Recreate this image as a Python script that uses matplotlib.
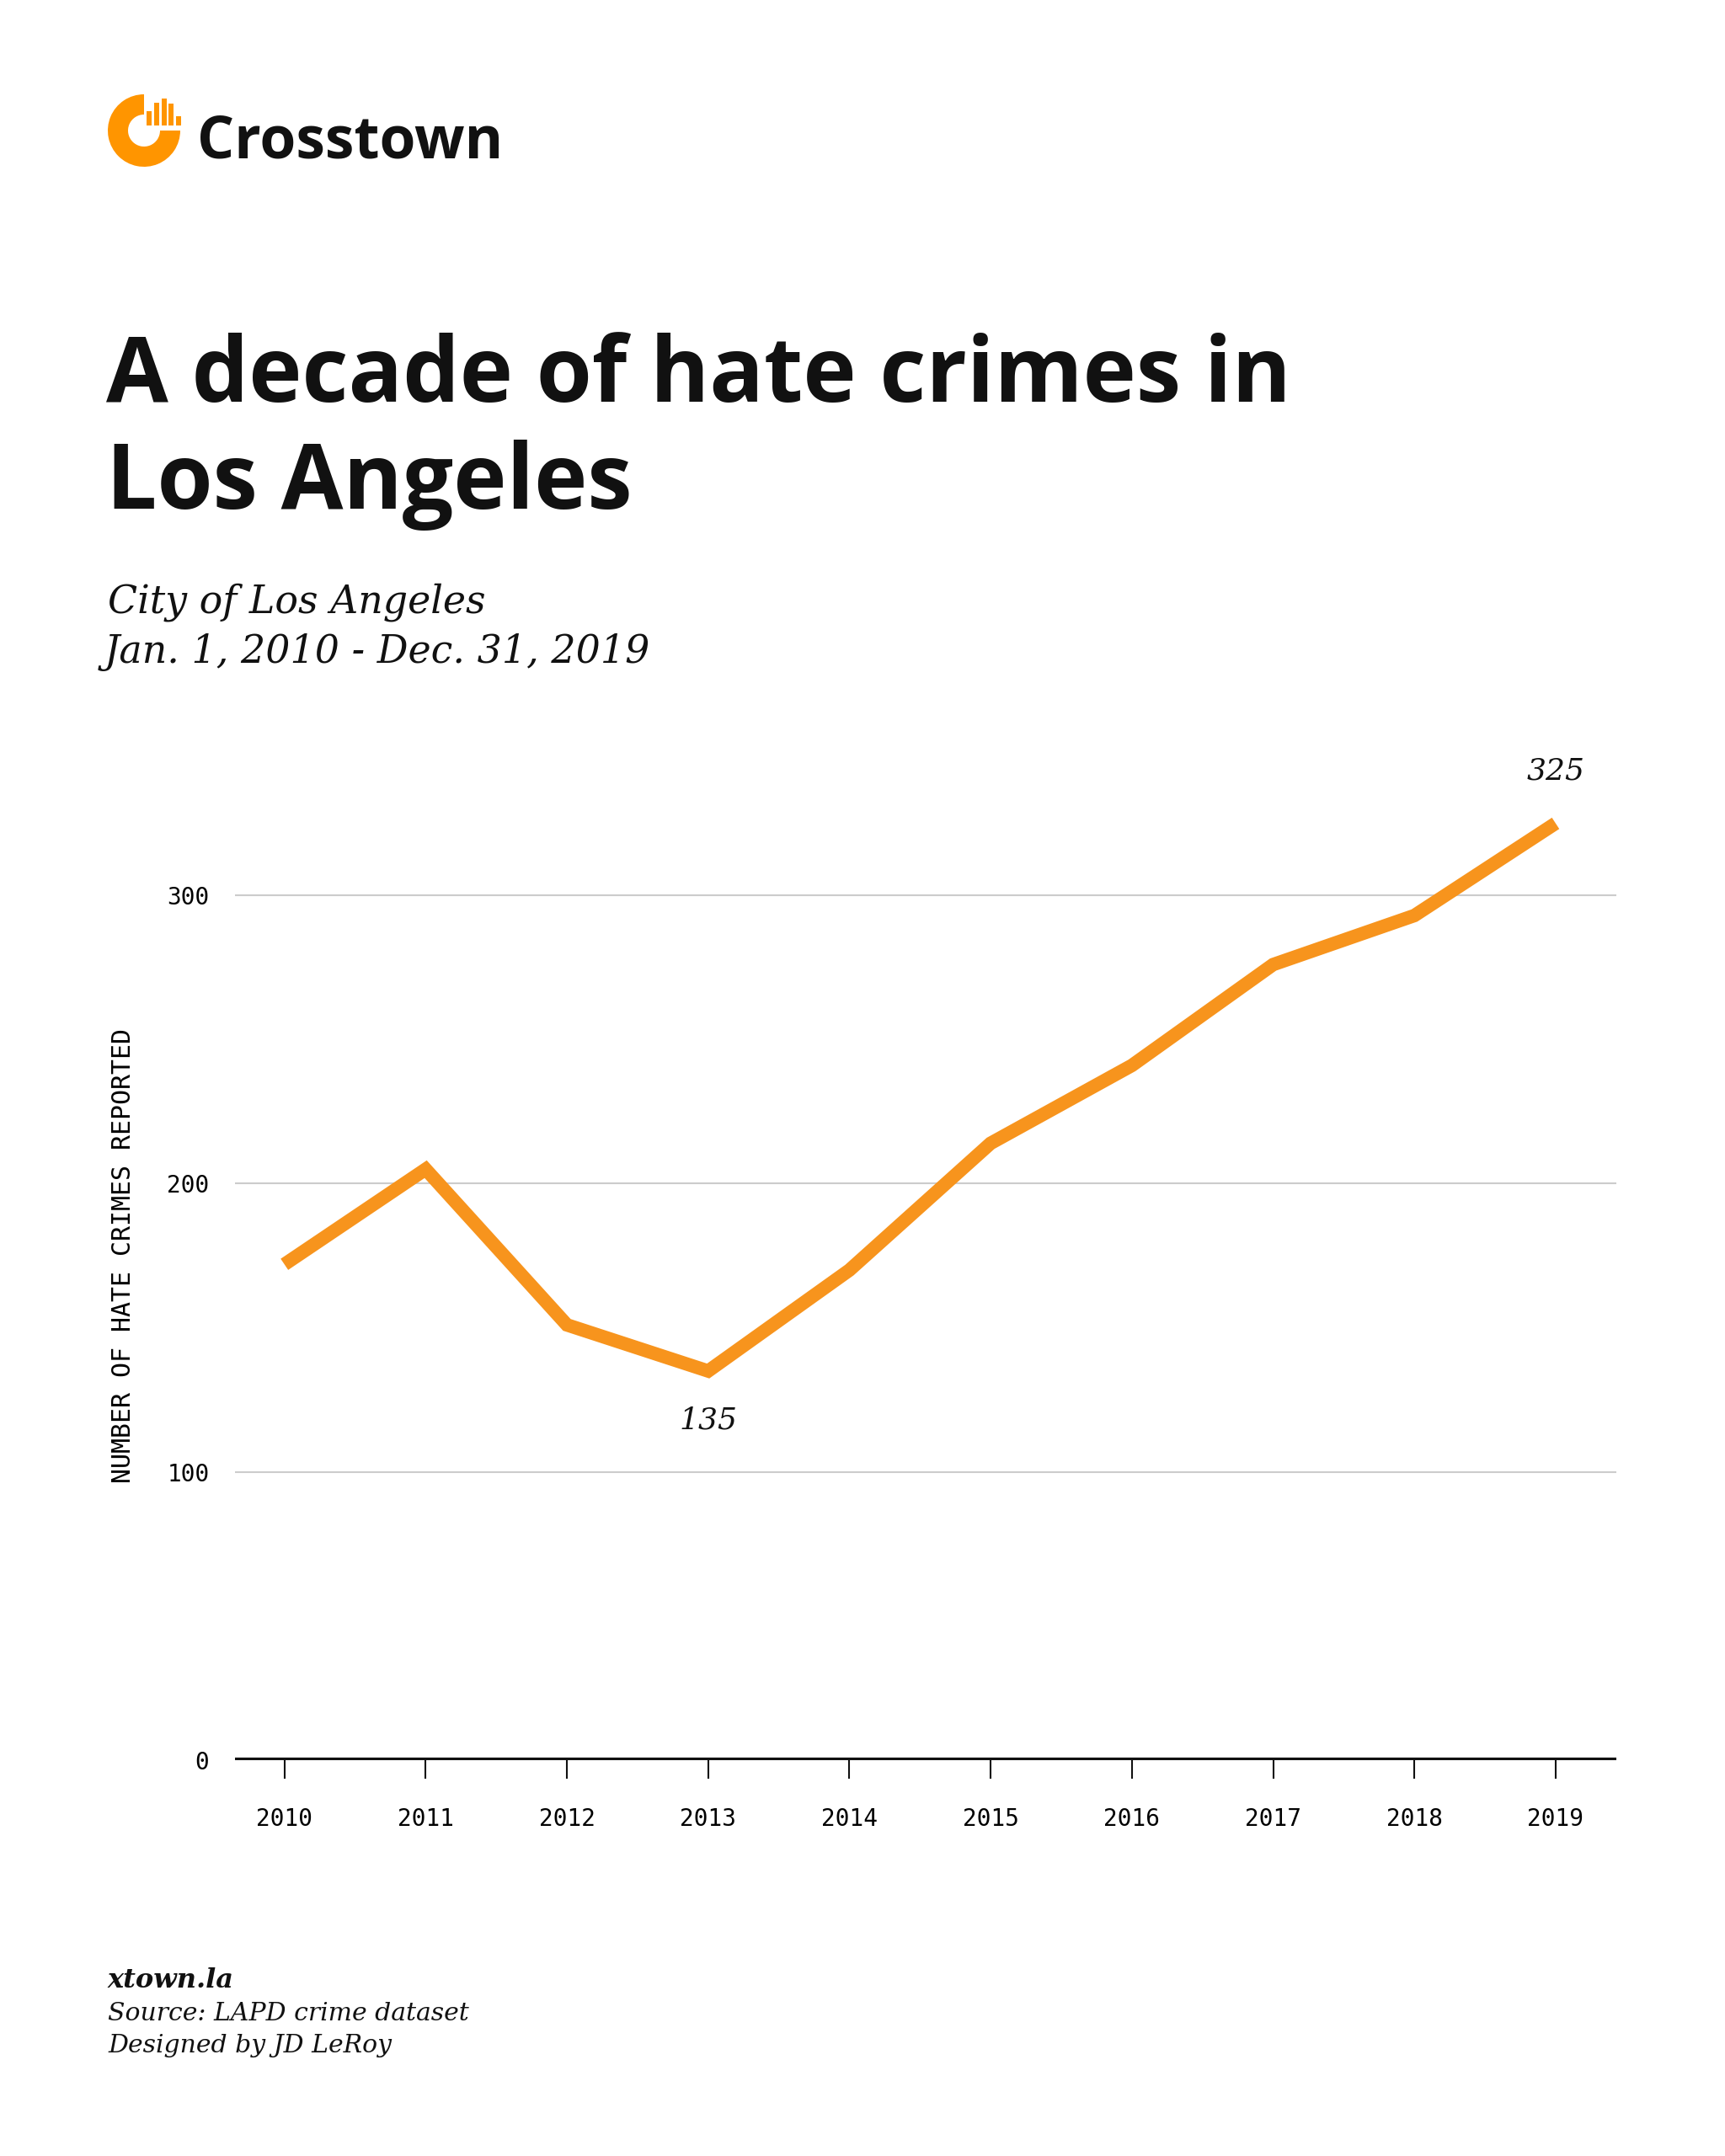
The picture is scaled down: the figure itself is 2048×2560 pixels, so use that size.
import numpy as np
import matplotlib
matplotlib.use("Agg")
import matplotlib.pyplot as plt
from matplotlib.patches import Wedge, Rectangle

# hate crimes reported in the city of LA, by year
years = [2010, 2011, 2012, 2013, 2014, 2015, 2016, 2017, 2018, 2019]
crimes = [172, 205, 151, 135, 170, 214, 241, 276, 293, 325]
y_ticks = [0, 100, 200, 300]
callouts = {2013: "135", 2019: "325"}

ORANGE = "#F7941D"
LOGO = "#FF9500"
W, H = 2048, 2560

fig = plt.figure(figsize=(W / 100, H / 100), dpi=100)
fig.patch.set_facecolor("white")


def fx(x):
    return x / W


def fy(y):
    return 1 - y / H


# logo in pixel coordinates
logo = fig.add_axes([0, 0, 1, 1])
logo.set_xlim(0, W)
logo.set_ylim(H, 0)
logo.axis("off")
logo.add_patch(Wedge((171, 155), 43, 0, 270, width=24, color=LOGO, lw=0))
bar_x = [174, 183, 191.5, 200, 209]
bar_top = [132, 122, 117, 123, 138]
for bx, bt in zip(bar_x, bar_top):
    logo.add_patch(Rectangle((bx, bt), 6, 149 - bt, color=LOGO, lw=0))

fig.text(fx(234), fy(187), "Crosstown", fontsize=50, fontweight="bold",
         family="Open Sans", color="#111111", va="baseline")

# title + subtitle
fig.text(fx(126), fy(477), "A decade of hate crimes in", fontsize=77,
         fontweight="bold", family="Open Sans", color="#111111", va="baseline")
fig.text(fx(126), fy(604), "Los Angeles", fontsize=77,
         fontweight="bold", family="Open Sans", color="#111111", va="baseline")
fig.text(fx(128), fy(727), "City of Los Angeles", fontsize=33, style="italic",
         family="DejaVu Serif", color="#111111", va="baseline")
fig.text(fx(124), fy(787), "Jan. 1, 2010 - Dec. 31, 2019", fontsize=33,
         style="italic", family="DejaVu Serif", color="#111111", va="baseline")

# main chart
ax = fig.add_axes([fx(279), fy(2090), (1919 - 279) / W, (2090 - 892) / H])
ax.set_xlim(2009.65, 2019.43)
ax.set_ylim(0, 350)
ax.plot(years, crimes, color=ORANGE, lw=11.5, solid_joinstyle="miter",
        solid_capstyle="butt", zorder=3)

for yv in y_ticks[1:]:
    ax.axhline(yv, color="#cccccc", lw=1.5, zorder=1)
ax.axhline(0, color="#111111", lw=4.5, zorder=2)

for sp in ax.spines.values():
    sp.set_visible(False)
ax.set_xticks(years)
ax.set_xticklabels([str(y) for y in years], family="DejaVu Sans Mono",
                   fontsize=20)
ax.set_yticks(y_ticks)
ax.set_yticklabels([str(v) for v in y_ticks], family="DejaVu Sans Mono",
                   fontsize=20)
ax.tick_params(axis="x", length=16, width=1.5, color="#111111", pad=24,
               direction="out")
ax.tick_params(axis="y", length=0, pad=22)
ax.set_ylabel("NUMBER OF HATE CRIMES REPORTED", family="DejaVu Sans Mono",
              fontsize=21.5, labelpad=27)

for yr, txt in callouts.items():
    val = crimes[years.index(yr)]
    off = -17 if yr == 2013 else 18
    ax.text(yr, val + off, txt, fontsize=26, style="italic",
            family="DejaVu Serif", ha="center", va="center", color="#111111")

# footer
fig.text(fx(128), fy(2360), "xtown.la", fontsize=23, style="italic",
         fontweight="bold", family="DejaVu Serif", color="#111111",
         va="baseline")
fig.text(fx(128), fy(2399), "Source: LAPD crime dataset", fontsize=21.5,
         style="italic", family="DejaVu Serif", color="#111111", va="baseline")
fig.text(fx(128), fy(2437), "Designed by JD LeRoy", fontsize=21.5,
         style="italic", family="DejaVu Serif", color="#111111", va="baseline")

fig.savefig("out.png", dpi=100, facecolor="white")
